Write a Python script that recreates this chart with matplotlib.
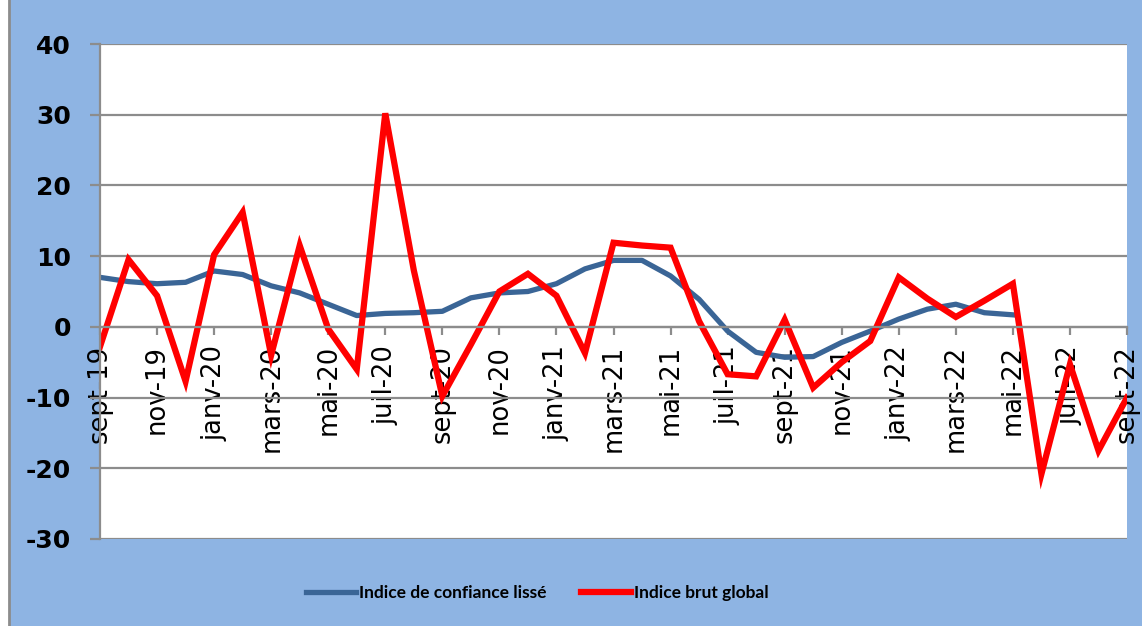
import matplotlib.pyplot as plt
from matplotlib.patches import Rectangle
from matplotlib.lines import Line2D

plt.rcParams['axes.unicode_minus'] = False

# months sept-19 .. sept-22
months = ['sept-19', 'oct-19', 'nov-19', 'déc-19',
          'janv-20', 'févr-20', 'mars-20', 'avr-20', 'mai-20', 'juin-20',
          'juil-20', 'août-20', 'sept-20', 'oct-20', 'nov-20', 'déc-20',
          'janv-21', 'févr-21', 'mars-21', 'avr-21', 'mai-21', 'juin-21',
          'juil-21', 'août-21', 'sept-21', 'oct-21', 'nov-21', 'déc-21',
          'janv-22', 'févr-22', 'mars-22', 'avr-22', 'mai-22', 'juin-22',
          'juil-22', 'août-22', 'sept-22']

# smoothed index stops at mai-22
lisse = [7.0, 6.4, 6.1, 6.3, 7.9, 7.4, 5.8, 4.8, 3.2, 1.6,
         1.9, 2.0, 2.2, 4.1, 4.8, 5.0, 6.1, 8.2, 9.4, 9.4,
         7.2, 3.9, -0.6, -3.6, -4.3, -4.2, -2.2, -0.6, 1.1, 2.5,
         3.2, 2.0, 1.7]

brut = [-2.8, 9.5, 4.4, -7.7, 10.2, 16.2, -4.0, 11.5, -0.3, -6.0,
        30.2, 8.0, -9.8, -2.5, 5.0, 7.5, 4.4, -3.7, 11.9, 11.5,
        11.2, 0.8, -6.7, -7.0, 1.0, -8.6, -5.0, -2.0, 7.0, 4.0,
        1.4, 3.7, 6.1, -20.8, -5.3, -17.5, -10.0]

bg = '#8EB4E3'
grey = '#8C8C8C'

fig = plt.figure(figsize=(11.42, 6.26), dpi=100)
fig.patch.set_facecolor('white')
fig.add_artist(Rectangle((9 / 1142, 0), 1, 1, transform=fig.transFigure,
                         facecolor=bg, edgecolor='none', zorder=0))
fig.add_artist(Line2D([9 / 1142, 9 / 1142], [0, 1], transform=fig.transFigure,
                      color=grey, lw=2, zorder=0.5))

ax = fig.add_axes([100 / 1142, 1 - 539 / 626, 1027 / 1142, 495 / 626])
ax.set_facecolor('white')
ax.set_axisbelow(True)

# spine position first, it resets the ticks
ax.spines['bottom'].set_position(('data', 0))
ax.spines['top'].set_visible(False)
ax.spines['right'].set_visible(False)
for s in ('bottom', 'left'):
    ax.spines[s].set_color(grey)
    ax.spines[s].set_linewidth(1.6)

ax.plot(range(len(lisse)), lisse, color='#3A6596', lw=3.8,
        label='Indice de confiance lissé', solid_joinstyle='round')
ax.plot(range(len(brut)), brut, color='#FF0000', lw=4.5,
        label='Indice brut global', solid_joinstyle='miter')

ax.set_xlim(0, len(months) - 1)
ax.set_ylim(-30, 40)
ax.set_yticks(range(-30, 41, 10))
ax.set_yticklabels([str(v) for v in range(-30, 41, 10)], fontweight='bold', fontsize=18)
ax.grid(axis='y', color=grey, lw=1.6)

ax.set_xticks(range(0, len(months), 2))
ax.set_xticklabels(months[::2], rotation=90, fontsize=18.5)

ax.tick_params(axis='x', length=6, width=1.6, color=grey, pad=7)
ax.tick_params(axis='y', length=7, width=1.6, color=grey, pad=14)

leg = fig.legend(loc='center', bbox_to_anchor=(537 / 1142, 1 - 593 / 626),
                 ncol=2, frameon=False, handlelength=2.9, handletextpad=0.15,
                 columnspacing=2.0, prop={'family': 'Lato', 'weight': 'bold', 'size': 12.5})

fig.savefig('out.png', dpi=100, facecolor=fig.get_facecolor())
